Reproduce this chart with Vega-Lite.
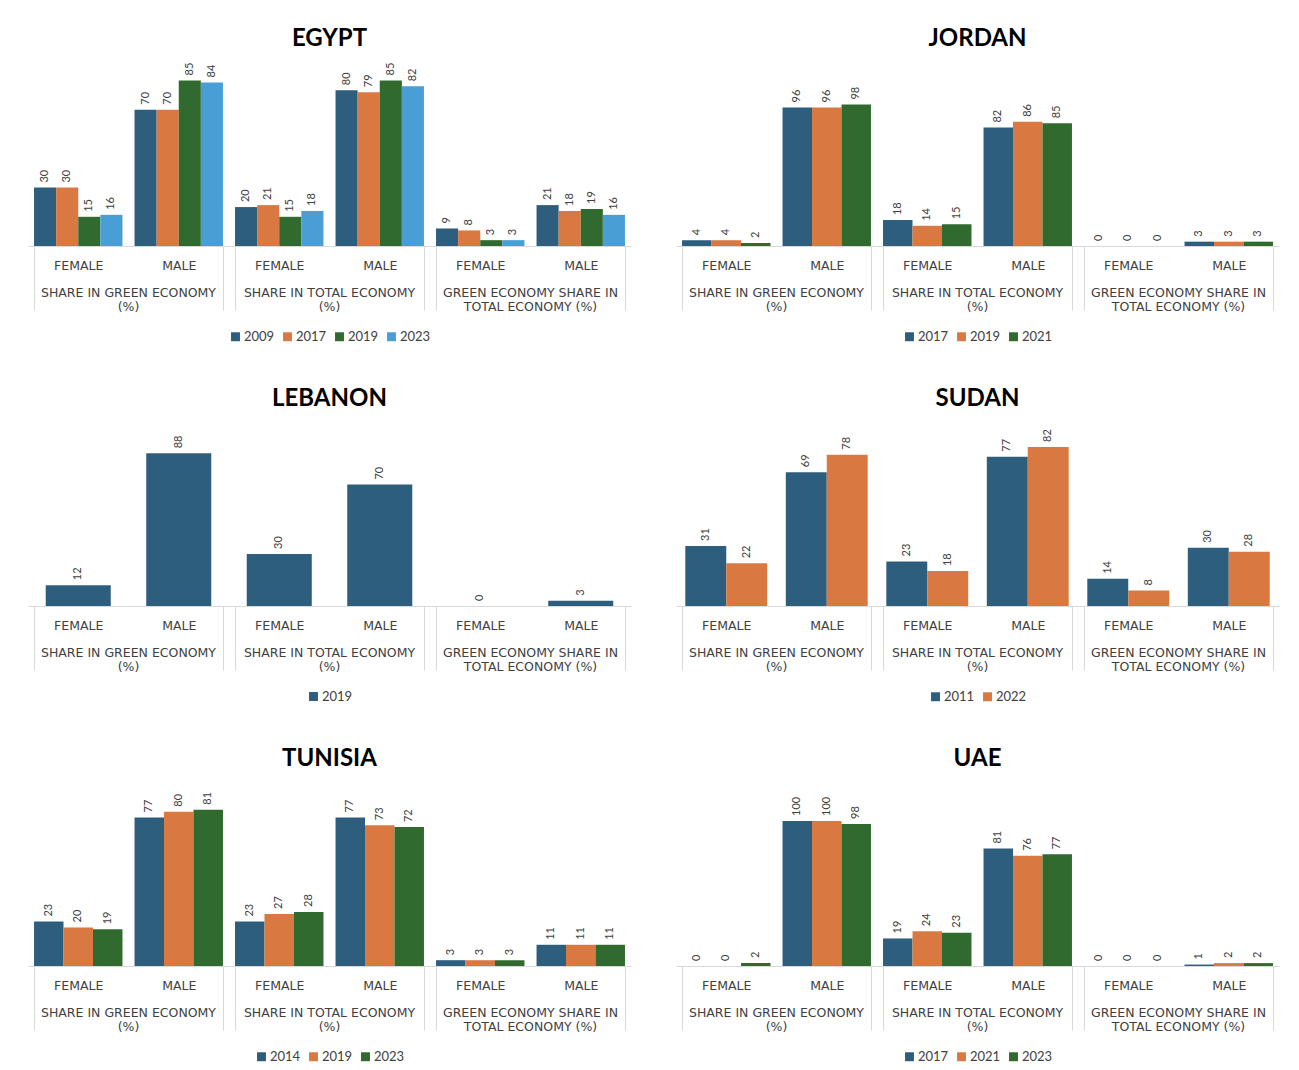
{
  "$schema": "https://vega.github.io/schema/vega-lite/v6.json",
  "background": "white",
  "padding": {"left": 28, "top": 27, "right": 5, "bottom": 5},
  "datasets": {
    "rows": [
      {"country": "EGYPT", "cat": "SHARE IN GREEN ECONOMY (%)", "sex": "FEMALE", "year": "2009", "value": 30},
      {"country": "EGYPT", "cat": "SHARE IN GREEN ECONOMY (%)", "sex": "FEMALE", "year": "2017", "value": 30},
      {"country": "EGYPT", "cat": "SHARE IN GREEN ECONOMY (%)", "sex": "FEMALE", "year": "2019", "value": 15},
      {"country": "EGYPT", "cat": "SHARE IN GREEN ECONOMY (%)", "sex": "FEMALE", "year": "2023", "value": 16},
      {"country": "EGYPT", "cat": "SHARE IN GREEN ECONOMY (%)", "sex": "MALE", "year": "2009", "value": 70},
      {"country": "EGYPT", "cat": "SHARE IN GREEN ECONOMY (%)", "sex": "MALE", "year": "2017", "value": 70},
      {"country": "EGYPT", "cat": "SHARE IN GREEN ECONOMY (%)", "sex": "MALE", "year": "2019", "value": 85},
      {"country": "EGYPT", "cat": "SHARE IN GREEN ECONOMY (%)", "sex": "MALE", "year": "2023", "value": 84},
      {"country": "EGYPT", "cat": "SHARE IN TOTAL ECONOMY (%)", "sex": "FEMALE", "year": "2009", "value": 20},
      {"country": "EGYPT", "cat": "SHARE IN TOTAL ECONOMY (%)", "sex": "FEMALE", "year": "2017", "value": 21},
      {"country": "EGYPT", "cat": "SHARE IN TOTAL ECONOMY (%)", "sex": "FEMALE", "year": "2019", "value": 15},
      {"country": "EGYPT", "cat": "SHARE IN TOTAL ECONOMY (%)", "sex": "FEMALE", "year": "2023", "value": 18},
      {"country": "EGYPT", "cat": "SHARE IN TOTAL ECONOMY (%)", "sex": "MALE", "year": "2009", "value": 80},
      {"country": "EGYPT", "cat": "SHARE IN TOTAL ECONOMY (%)", "sex": "MALE", "year": "2017", "value": 79},
      {"country": "EGYPT", "cat": "SHARE IN TOTAL ECONOMY (%)", "sex": "MALE", "year": "2019", "value": 85},
      {"country": "EGYPT", "cat": "SHARE IN TOTAL ECONOMY (%)", "sex": "MALE", "year": "2023", "value": 82},
      {"country": "EGYPT", "cat": "GREEN ECONOMY SHARE IN TOTAL ECONOMY (%)", "sex": "FEMALE", "year": "2009", "value": 9},
      {"country": "EGYPT", "cat": "GREEN ECONOMY SHARE IN TOTAL ECONOMY (%)", "sex": "FEMALE", "year": "2017", "value": 8},
      {"country": "EGYPT", "cat": "GREEN ECONOMY SHARE IN TOTAL ECONOMY (%)", "sex": "FEMALE", "year": "2019", "value": 3},
      {"country": "EGYPT", "cat": "GREEN ECONOMY SHARE IN TOTAL ECONOMY (%)", "sex": "FEMALE", "year": "2023", "value": 3},
      {"country": "EGYPT", "cat": "GREEN ECONOMY SHARE IN TOTAL ECONOMY (%)", "sex": "MALE", "year": "2009", "value": 21},
      {"country": "EGYPT", "cat": "GREEN ECONOMY SHARE IN TOTAL ECONOMY (%)", "sex": "MALE", "year": "2017", "value": 18},
      {"country": "EGYPT", "cat": "GREEN ECONOMY SHARE IN TOTAL ECONOMY (%)", "sex": "MALE", "year": "2019", "value": 19},
      {"country": "EGYPT", "cat": "GREEN ECONOMY SHARE IN TOTAL ECONOMY (%)", "sex": "MALE", "year": "2023", "value": 16},

      {"country": "JORDAN", "cat": "SHARE IN GREEN ECONOMY (%)", "sex": "FEMALE", "year": "2017", "value": 4},
      {"country": "JORDAN", "cat": "SHARE IN GREEN ECONOMY (%)", "sex": "FEMALE", "year": "2019", "value": 4},
      {"country": "JORDAN", "cat": "SHARE IN GREEN ECONOMY (%)", "sex": "FEMALE", "year": "2021", "value": 2},
      {"country": "JORDAN", "cat": "SHARE IN GREEN ECONOMY (%)", "sex": "MALE", "year": "2017", "value": 96},
      {"country": "JORDAN", "cat": "SHARE IN GREEN ECONOMY (%)", "sex": "MALE", "year": "2019", "value": 96},
      {"country": "JORDAN", "cat": "SHARE IN GREEN ECONOMY (%)", "sex": "MALE", "year": "2021", "value": 98},
      {"country": "JORDAN", "cat": "SHARE IN TOTAL ECONOMY (%)", "sex": "FEMALE", "year": "2017", "value": 18},
      {"country": "JORDAN", "cat": "SHARE IN TOTAL ECONOMY (%)", "sex": "FEMALE", "year": "2019", "value": 14},
      {"country": "JORDAN", "cat": "SHARE IN TOTAL ECONOMY (%)", "sex": "FEMALE", "year": "2021", "value": 15},
      {"country": "JORDAN", "cat": "SHARE IN TOTAL ECONOMY (%)", "sex": "MALE", "year": "2017", "value": 82},
      {"country": "JORDAN", "cat": "SHARE IN TOTAL ECONOMY (%)", "sex": "MALE", "year": "2019", "value": 86},
      {"country": "JORDAN", "cat": "SHARE IN TOTAL ECONOMY (%)", "sex": "MALE", "year": "2021", "value": 85},
      {"country": "JORDAN", "cat": "GREEN ECONOMY SHARE IN TOTAL ECONOMY (%)", "sex": "FEMALE", "year": "2017", "value": 0},
      {"country": "JORDAN", "cat": "GREEN ECONOMY SHARE IN TOTAL ECONOMY (%)", "sex": "FEMALE", "year": "2019", "value": 0},
      {"country": "JORDAN", "cat": "GREEN ECONOMY SHARE IN TOTAL ECONOMY (%)", "sex": "FEMALE", "year": "2021", "value": 0},
      {"country": "JORDAN", "cat": "GREEN ECONOMY SHARE IN TOTAL ECONOMY (%)", "sex": "MALE", "year": "2017", "value": 3},
      {"country": "JORDAN", "cat": "GREEN ECONOMY SHARE IN TOTAL ECONOMY (%)", "sex": "MALE", "year": "2019", "value": 3},
      {"country": "JORDAN", "cat": "GREEN ECONOMY SHARE IN TOTAL ECONOMY (%)", "sex": "MALE", "year": "2021", "value": 3},

      {"country": "LEBANON", "cat": "SHARE IN GREEN ECONOMY (%)", "sex": "FEMALE", "year": "2019", "value": 12},
      {"country": "LEBANON", "cat": "SHARE IN GREEN ECONOMY (%)", "sex": "MALE", "year": "2019", "value": 88},
      {"country": "LEBANON", "cat": "SHARE IN TOTAL ECONOMY (%)", "sex": "FEMALE", "year": "2019", "value": 30},
      {"country": "LEBANON", "cat": "SHARE IN TOTAL ECONOMY (%)", "sex": "MALE", "year": "2019", "value": 70},
      {"country": "LEBANON", "cat": "GREEN ECONOMY SHARE IN TOTAL ECONOMY (%)", "sex": "FEMALE", "year": "2019", "value": 0},
      {"country": "LEBANON", "cat": "GREEN ECONOMY SHARE IN TOTAL ECONOMY (%)", "sex": "MALE", "year": "2019", "value": 3},

      {"country": "SUDAN", "cat": "SHARE IN GREEN ECONOMY (%)", "sex": "FEMALE", "year": "2011", "value": 31},
      {"country": "SUDAN", "cat": "SHARE IN GREEN ECONOMY (%)", "sex": "FEMALE", "year": "2022", "value": 22},
      {"country": "SUDAN", "cat": "SHARE IN GREEN ECONOMY (%)", "sex": "MALE", "year": "2011", "value": 69},
      {"country": "SUDAN", "cat": "SHARE IN GREEN ECONOMY (%)", "sex": "MALE", "year": "2022", "value": 78},
      {"country": "SUDAN", "cat": "SHARE IN TOTAL ECONOMY (%)", "sex": "FEMALE", "year": "2011", "value": 23},
      {"country": "SUDAN", "cat": "SHARE IN TOTAL ECONOMY (%)", "sex": "FEMALE", "year": "2022", "value": 18},
      {"country": "SUDAN", "cat": "SHARE IN TOTAL ECONOMY (%)", "sex": "MALE", "year": "2011", "value": 77},
      {"country": "SUDAN", "cat": "SHARE IN TOTAL ECONOMY (%)", "sex": "MALE", "year": "2022", "value": 82},
      {"country": "SUDAN", "cat": "GREEN ECONOMY SHARE IN TOTAL ECONOMY (%)", "sex": "FEMALE", "year": "2011", "value": 14},
      {"country": "SUDAN", "cat": "GREEN ECONOMY SHARE IN TOTAL ECONOMY (%)", "sex": "FEMALE", "year": "2022", "value": 8},
      {"country": "SUDAN", "cat": "GREEN ECONOMY SHARE IN TOTAL ECONOMY (%)", "sex": "MALE", "year": "2011", "value": 30},
      {"country": "SUDAN", "cat": "GREEN ECONOMY SHARE IN TOTAL ECONOMY (%)", "sex": "MALE", "year": "2022", "value": 28},

      {"country": "TUNISIA", "cat": "SHARE IN GREEN ECONOMY (%)", "sex": "FEMALE", "year": "2014", "value": 23},
      {"country": "TUNISIA", "cat": "SHARE IN GREEN ECONOMY (%)", "sex": "FEMALE", "year": "2019", "value": 20},
      {"country": "TUNISIA", "cat": "SHARE IN GREEN ECONOMY (%)", "sex": "FEMALE", "year": "2023", "value": 19},
      {"country": "TUNISIA", "cat": "SHARE IN GREEN ECONOMY (%)", "sex": "MALE", "year": "2014", "value": 77},
      {"country": "TUNISIA", "cat": "SHARE IN GREEN ECONOMY (%)", "sex": "MALE", "year": "2019", "value": 80},
      {"country": "TUNISIA", "cat": "SHARE IN GREEN ECONOMY (%)", "sex": "MALE", "year": "2023", "value": 81},
      {"country": "TUNISIA", "cat": "SHARE IN TOTAL ECONOMY (%)", "sex": "FEMALE", "year": "2014", "value": 23},
      {"country": "TUNISIA", "cat": "SHARE IN TOTAL ECONOMY (%)", "sex": "FEMALE", "year": "2019", "value": 27},
      {"country": "TUNISIA", "cat": "SHARE IN TOTAL ECONOMY (%)", "sex": "FEMALE", "year": "2023", "value": 28},
      {"country": "TUNISIA", "cat": "SHARE IN TOTAL ECONOMY (%)", "sex": "MALE", "year": "2014", "value": 77},
      {"country": "TUNISIA", "cat": "SHARE IN TOTAL ECONOMY (%)", "sex": "MALE", "year": "2019", "value": 73},
      {"country": "TUNISIA", "cat": "SHARE IN TOTAL ECONOMY (%)", "sex": "MALE", "year": "2023", "value": 72},
      {"country": "TUNISIA", "cat": "GREEN ECONOMY SHARE IN TOTAL ECONOMY (%)", "sex": "FEMALE", "year": "2014", "value": 3},
      {"country": "TUNISIA", "cat": "GREEN ECONOMY SHARE IN TOTAL ECONOMY (%)", "sex": "FEMALE", "year": "2019", "value": 3},
      {"country": "TUNISIA", "cat": "GREEN ECONOMY SHARE IN TOTAL ECONOMY (%)", "sex": "FEMALE", "year": "2023", "value": 3},
      {"country": "TUNISIA", "cat": "GREEN ECONOMY SHARE IN TOTAL ECONOMY (%)", "sex": "MALE", "year": "2014", "value": 11},
      {"country": "TUNISIA", "cat": "GREEN ECONOMY SHARE IN TOTAL ECONOMY (%)", "sex": "MALE", "year": "2019", "value": 11},
      {"country": "TUNISIA", "cat": "GREEN ECONOMY SHARE IN TOTAL ECONOMY (%)", "sex": "MALE", "year": "2023", "value": 11},

      {"country": "UAE", "cat": "SHARE IN GREEN ECONOMY (%)", "sex": "FEMALE", "year": "2017", "value": 0},
      {"country": "UAE", "cat": "SHARE IN GREEN ECONOMY (%)", "sex": "FEMALE", "year": "2021", "value": 0},
      {"country": "UAE", "cat": "SHARE IN GREEN ECONOMY (%)", "sex": "FEMALE", "year": "2023", "value": 2},
      {"country": "UAE", "cat": "SHARE IN GREEN ECONOMY (%)", "sex": "MALE", "year": "2017", "value": 100},
      {"country": "UAE", "cat": "SHARE IN GREEN ECONOMY (%)", "sex": "MALE", "year": "2021", "value": 100},
      {"country": "UAE", "cat": "SHARE IN GREEN ECONOMY (%)", "sex": "MALE", "year": "2023", "value": 98},
      {"country": "UAE", "cat": "SHARE IN TOTAL ECONOMY (%)", "sex": "FEMALE", "year": "2017", "value": 19},
      {"country": "UAE", "cat": "SHARE IN TOTAL ECONOMY (%)", "sex": "FEMALE", "year": "2021", "value": 24},
      {"country": "UAE", "cat": "SHARE IN TOTAL ECONOMY (%)", "sex": "FEMALE", "year": "2023", "value": 23},
      {"country": "UAE", "cat": "SHARE IN TOTAL ECONOMY (%)", "sex": "MALE", "year": "2017", "value": 81},
      {"country": "UAE", "cat": "SHARE IN TOTAL ECONOMY (%)", "sex": "MALE", "year": "2021", "value": 76},
      {"country": "UAE", "cat": "SHARE IN TOTAL ECONOMY (%)", "sex": "MALE", "year": "2023", "value": 77},
      {"country": "UAE", "cat": "GREEN ECONOMY SHARE IN TOTAL ECONOMY (%)", "sex": "FEMALE", "year": "2017", "value": 0},
      {"country": "UAE", "cat": "GREEN ECONOMY SHARE IN TOTAL ECONOMY (%)", "sex": "FEMALE", "year": "2021", "value": 0},
      {"country": "UAE", "cat": "GREEN ECONOMY SHARE IN TOTAL ECONOMY (%)", "sex": "FEMALE", "year": "2023", "value": 0},
      {"country": "UAE", "cat": "GREEN ECONOMY SHARE IN TOTAL ECONOMY (%)", "sex": "MALE", "year": "2017", "value": 1},
      {"country": "UAE", "cat": "GREEN ECONOMY SHARE IN TOTAL ECONOMY (%)", "sex": "MALE", "year": "2021", "value": 2},
      {"country": "UAE", "cat": "GREEN ECONOMY SHARE IN TOTAL ECONOMY (%)", "sex": "MALE", "year": "2023", "value": 2}
    ]
  },
  "config": {
    "font": "Lato",
    "view": {"stroke": null},
    "title": {"fontSize": 24, "fontWeight": "bold", "font": "Lato", "color": "#000000", "anchor": "middle", "offset": 3},
    "header": {"labelOrient": "bottom", "labelFontSize": 12.5, "labelColor": "#404040", "labelFont": "DejaVu Sans", "labelLineHeight": 14, "labelPadding": -24, "labelBaseline": "top",
      "labelExpr": "datum.value === 'GREEN ECONOMY SHARE IN TOTAL ECONOMY (%)' ? ['GREEN ECONOMY SHARE IN', 'TOTAL ECONOMY (%)'] : [replace(datum.value, ' (%)', ''), '(%)']"},
    "legend": {"orient": "bottom", "direction": "horizontal", "symbolType": "square", "symbolSize": 80, "symbolStrokeWidth": 0, "labelFontSize": 13, "labelColor": "#404040", "labelFont": "Lato", "columnPadding": 6, "labelOffset": 2, "offset": 17, "layout": {"anchor": "middle"}},
    "axisX": {"labelAngle": 0, "labelFontSize": 12.5, "labelColor": "#404040", "labelFont": "DejaVu Sans", "domainColor": "#d9d9d9", "labelPadding": -51, "tickSize": 64, "title": null},
    "text": {"fontSize": 11, "color": "#404040", "font": "Lato"}
  },
  "resolve": {"scale": {"color": "independent", "xOffset": "independent", "x": "independent", "y": "independent"}, "legend": {"color": "independent"}},
  "vconcat": [
    {
      "hconcat": [
        {
          "title": "EGYPT",
          "data": {"name": "rows"},
          "transform": [{"filter": "datum.country === 'EGYPT'"}],
          "facet": {"column": {"field": "cat", "type": "nominal", "sort": ["SHARE IN GREEN ECONOMY (%)", "SHARE IN TOTAL ECONOMY (%)", "GREEN ECONOMY SHARE IN TOTAL ECONOMY (%)"], "header": {"title": null}}},
          "spacing": {"column": 0},
          "spec": {
            "width": 201, "height": 192,
            "encoding": {
              "x": {"field": "sex", "type": "nominal", "sort": ["FEMALE", "MALE"], "scale": {"paddingInner": 0.12, "paddingOuter": 0.06}, "axis": {"tickBand": "extent", "tickExtra": true, "tickColor": {"condition": {"test": "datum.value === 'FEMALE'", "value": "transparent"}, "value": "#d9d9d9"}}},
              "xOffset": {"field": "year", "type": "nominal"},
              "y": {"field": "value", "type": "quantitative", "scale": {"domain": [0, 98.6], "nice": false}, "axis": null}
            },
            "layer": [
              {"mark": {"type": "bar"}, "encoding": {"color": {"field": "year", "type": "nominal", "scale": {"domain": ["2009", "2017", "2019", "2023"], "range": ["#2E5E7E", "#D97941", "#306A2E", "#4A9ED6"]}, "legend": {"title": null}}}},
              {"mark": {"type": "text", "angle": 270, "align": "left", "baseline": "middle", "dx": 5}, "encoding": {"text": {"field": "value", "type": "quantitative"}}}
            ]
          }
        },
        {
          "title": "JORDAN",
          "data": {"name": "rows"},
          "transform": [{"filter": "datum.country === 'JORDAN'"}],
          "facet": {"column": {"field": "cat", "type": "nominal", "sort": ["SHARE IN GREEN ECONOMY (%)", "SHARE IN TOTAL ECONOMY (%)", "GREEN ECONOMY SHARE IN TOTAL ECONOMY (%)"], "header": {"title": null}}},
          "spacing": {"column": 0},
          "spec": {
            "width": 201, "height": 192,
            "encoding": {
              "x": {"field": "sex", "type": "nominal", "sort": ["FEMALE", "MALE"], "scale": {"paddingInner": 0.12, "paddingOuter": 0.06}, "axis": {"tickBand": "extent", "tickExtra": true, "tickColor": {"condition": {"test": "datum.value === 'FEMALE'", "value": "transparent"}, "value": "#d9d9d9"}}},
              "xOffset": {"field": "year", "type": "nominal"},
              "y": {"field": "value", "type": "quantitative", "scale": {"domain": [0, 133], "nice": false}, "axis": null}
            },
            "layer": [
              {"mark": {"type": "bar"}, "encoding": {"color": {"field": "year", "type": "nominal", "scale": {"domain": ["2017", "2019", "2021"], "range": ["#2E5E7E", "#D97941", "#306A2E"]}, "legend": {"title": null}}}},
              {"mark": {"type": "text", "angle": 270, "align": "left", "baseline": "middle", "dx": 5}, "encoding": {"text": {"field": "value", "type": "quantitative"}}}
            ]
          }
        }
      ],
      "spacing": 45,
      "resolve": {"scale": {"color": "independent", "xOffset": "independent", "x": "independent", "y": "independent"}, "legend": {"color": "independent"}}
    },
    {
      "hconcat": [
        {
          "title": "LEBANON",
          "data": {"name": "rows"},
          "transform": [{"filter": "datum.country === 'LEBANON'"}],
          "facet": {"column": {"field": "cat", "type": "nominal", "sort": ["SHARE IN GREEN ECONOMY (%)", "SHARE IN TOTAL ECONOMY (%)", "GREEN ECONOMY SHARE IN TOTAL ECONOMY (%)"], "header": {"title": null}}},
          "spacing": {"column": 0},
          "spec": {
            "width": 201, "height": 192,
            "encoding": {
              "x": {"field": "sex", "type": "nominal", "sort": ["FEMALE", "MALE"], "scale": {"paddingInner": 0.12, "paddingOuter": 0.06}, "axis": {"tickBand": "extent", "tickExtra": true, "tickColor": {"condition": {"test": "datum.value === 'FEMALE'", "value": "transparent"}, "value": "#d9d9d9"}}},
              "xOffset": {"field": "year", "type": "nominal", "scale": {"paddingOuter": 0.18}},
              "y": {"field": "value", "type": "quantitative", "scale": {"domain": [0, 110.7], "nice": false}, "axis": null}
            },
            "layer": [
              {"mark": {"type": "bar"}, "encoding": {"color": {"field": "year", "type": "nominal", "scale": {"domain": ["2019"], "range": ["#2E5E7E"]}, "legend": {"title": null}}}},
              {"mark": {"type": "text", "angle": 270, "align": "left", "baseline": "middle", "dx": 5}, "encoding": {"text": {"field": "value", "type": "quantitative"}}}
            ]
          }
        },
        {
          "title": "SUDAN",
          "data": {"name": "rows"},
          "transform": [{"filter": "datum.country === 'SUDAN'"}],
          "facet": {"column": {"field": "cat", "type": "nominal", "sort": ["SHARE IN GREEN ECONOMY (%)", "SHARE IN TOTAL ECONOMY (%)", "GREEN ECONOMY SHARE IN TOTAL ECONOMY (%)"], "header": {"title": null}}},
          "spacing": {"column": 0},
          "spec": {
            "width": 201, "height": 192,
            "encoding": {
              "x": {"field": "sex", "type": "nominal", "sort": ["FEMALE", "MALE"], "scale": {"paddingInner": 0.12, "paddingOuter": 0.06}, "axis": {"tickBand": "extent", "tickExtra": true, "tickColor": {"condition": {"test": "datum.value === 'FEMALE'", "value": "transparent"}, "value": "#d9d9d9"}}},
              "xOffset": {"field": "year", "type": "nominal", "scale": {"paddingOuter": 0.08}},
              "y": {"field": "value", "type": "quantitative", "scale": {"domain": [0, 99], "nice": false}, "axis": null}
            },
            "layer": [
              {"mark": {"type": "bar"}, "encoding": {"color": {"field": "year", "type": "nominal", "scale": {"domain": ["2011", "2022"], "range": ["#2E5E7E", "#D97941"]}, "legend": {"title": null}}}},
              {"mark": {"type": "text", "angle": 270, "align": "left", "baseline": "middle", "dx": 5}, "encoding": {"text": {"field": "value", "type": "quantitative"}}}
            ]
          }
        }
      ],
      "spacing": 45,
      "resolve": {"scale": {"color": "independent", "xOffset": "independent", "x": "independent", "y": "independent"}, "legend": {"color": "independent"}}
    },
    {
      "hconcat": [
        {
          "title": "TUNISIA",
          "data": {"name": "rows"},
          "transform": [{"filter": "datum.country === 'TUNISIA'"}],
          "facet": {"column": {"field": "cat", "type": "nominal", "sort": ["SHARE IN GREEN ECONOMY (%)", "SHARE IN TOTAL ECONOMY (%)", "GREEN ECONOMY SHARE IN TOTAL ECONOMY (%)"], "header": {"title": null}}},
          "spacing": {"column": 0},
          "spec": {
            "width": 201, "height": 192,
            "encoding": {
              "x": {"field": "sex", "type": "nominal", "sort": ["FEMALE", "MALE"], "scale": {"paddingInner": 0.12, "paddingOuter": 0.06}, "axis": {"tickBand": "extent", "tickExtra": true, "tickColor": {"condition": {"test": "datum.value === 'FEMALE'", "value": "transparent"}, "value": "#d9d9d9"}}},
              "xOffset": {"field": "year", "type": "nominal"},
              "y": {"field": "value", "type": "quantitative", "scale": {"domain": [0, 99.5], "nice": false}, "axis": null}
            },
            "layer": [
              {"mark": {"type": "bar"}, "encoding": {"color": {"field": "year", "type": "nominal", "scale": {"domain": ["2014", "2019", "2023"], "range": ["#2E5E7E", "#D97941", "#306A2E"]}, "legend": {"title": null}}}},
              {"mark": {"type": "text", "angle": 270, "align": "left", "baseline": "middle", "dx": 5}, "encoding": {"text": {"field": "value", "type": "quantitative"}}}
            ]
          }
        },
        {
          "title": "UAE",
          "data": {"name": "rows"},
          "transform": [{"filter": "datum.country === 'UAE'"}],
          "facet": {"column": {"field": "cat", "type": "nominal", "sort": ["SHARE IN GREEN ECONOMY (%)", "SHARE IN TOTAL ECONOMY (%)", "GREEN ECONOMY SHARE IN TOTAL ECONOMY (%)"], "header": {"title": null}}},
          "spacing": {"column": 0},
          "spec": {
            "width": 201, "height": 192,
            "encoding": {
              "x": {"field": "sex", "type": "nominal", "sort": ["FEMALE", "MALE"], "scale": {"paddingInner": 0.12, "paddingOuter": 0.06}, "axis": {"tickBand": "extent", "tickExtra": true, "tickColor": {"condition": {"test": "datum.value === 'FEMALE'", "value": "transparent"}, "value": "#d9d9d9"}}},
              "xOffset": {"field": "year", "type": "nominal"},
              "y": {"field": "value", "type": "quantitative", "scale": {"domain": [0, 132.4], "nice": false}, "axis": null}
            },
            "layer": [
              {"mark": {"type": "bar"}, "encoding": {"color": {"field": "year", "type": "nominal", "scale": {"domain": ["2017", "2021", "2023"], "range": ["#2E5E7E", "#D97941", "#306A2E"]}, "legend": {"title": null}}}},
              {"mark": {"type": "text", "angle": 270, "align": "left", "baseline": "middle", "dx": 5}, "encoding": {"text": {"field": "value", "type": "quantitative"}}}
            ]
          }
        }
      ],
      "spacing": 45,
      "resolve": {"scale": {"color": "independent", "xOffset": "independent", "x": "independent", "y": "independent"}, "legend": {"color": "independent"}}
    }
  ],
  "spacing": 43
}
